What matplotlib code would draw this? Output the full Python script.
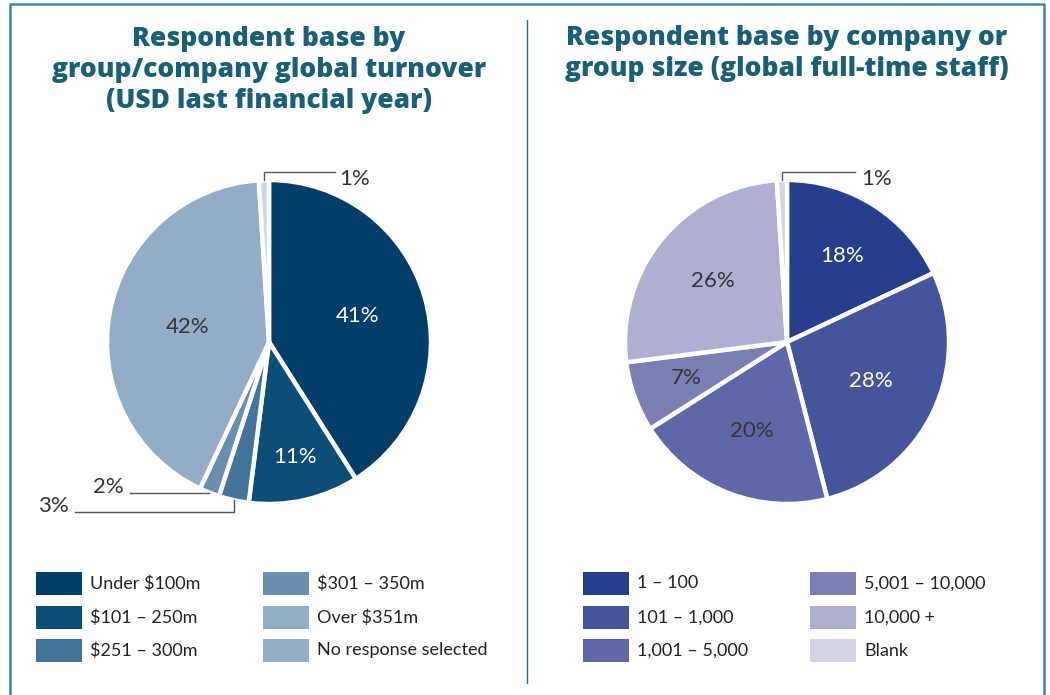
import numpy as np
import matplotlib
matplotlib.use("Agg")
import matplotlib.pyplot as plt
from matplotlib.patches import Rectangle
from matplotlib.lines import Line2D

# data
turnover_labels = ["Under $100m", "$101 – 250m", "$251 – 300m",
                   "$301 – 350m", "Over $351m", "No response selected"]
turnover_values = [41, 11, 3, 2, 42, 1]
turnover_colors = ["#023e68", "#0b4f79", "#44739b", "#6a8eb0", "#93adc8", "#c9d8e8"]
turnover_legend_colors = ["#023e68", "#0b4f79", "#44739b", "#6a8eb0", "#93adc8", "#93adc8"]

staff_labels = ["1 – 100", "101 – 1,000", "1,001 – 5,000",
                "5,001 – 10,000", "10,000 +", "Blank"]
staff_values = [18, 28, 20, 7, 26, 1]
staff_colors = ["#253f8d", "#45559b", "#5f68a6", "#7c7fb3", "#afafd2", "#d3d4e6"]

title_left = "Respondent base by\ngroup/company global turnover\n(USD last financial year)"
title_right = "Respondent base by company or\ngroup size (global full-time staff)"

# layout
W, H = 1050, 695
R = 162
TITLE_COLOR = "#195f78"
FRAME_COLOR = "#3f86a0"
FONT = ["Lato", "DejaVu Sans"]

plt.rcParams["font.family"] = FONT

fig = plt.figure(figsize=(W / 100, H / 100), dpi=100)


def fx(x):
    return x / W


def fy(y):
    return 1 - y / H


def draw_pie(cx, cy, values, colors, label_r, text_colors):
    S = 420
    ax = fig.add_axes([fx(cx - S / 2), fy(cy + S / 2), S / W, S / H])
    wedges, _ = ax.pie(values, colors=colors, startangle=90, counterclock=False,
                       radius=1, wedgeprops=dict(edgecolor="white", linewidth=3.2))
    L = (S / 2) / R
    ax.set_xlim(-L, L)
    ax.set_ylim(-L, L)
    ax.set_aspect("equal")
    ax.axis("off")
    for w, v, r, tc in zip(wedges, values, label_r, text_colors):
        if r is None:
            continue
        mid = np.deg2rad((w.theta1 + w.theta2) / 2)
        ax.text(r * np.cos(mid), r * np.sin(mid), f"{v}%", ha="center", va="center",
                fontsize=16, color=tc, fontweight="normal")
    return ax, wedges


def edge_point(w):
    mid = np.deg2rad((w.theta1 + w.theta2) / 2)
    return np.cos(mid), np.sin(mid)


LEADER = dict(color="#555555", lw=1.0, clip_on=False)
SMALL_TXT = dict(fontsize=16, color="#333333", fontweight="normal")

# left pie
axl, wl = draw_pie(269, 342, turnover_values, turnover_colors,
                   [0.57, 0.73, None, None, 0.51, None],
                   ["white", "white", "white", "white", "#333333", "#333333"])
# 1% leader (top)
x0, y0 = edge_point(wl[5])
top_y = (342 - 172) / R
axl.plot([x0, x0, (335 - 269) / R], [y0, top_y, top_y], **LEADER)
axl.text((339 - 269) / R, (342 - 179) / R, f"{turnover_values[5]}%", ha="left", va="center", **SMALL_TXT)
# 2% leader
x0, y0 = edge_point(wl[3])
axl.plot([x0, (130 - 269) / R], [y0, y0], **LEADER)
axl.text((124 - 269) / R, y0, f"{turnover_values[3]}%", ha="right", va="baseline", **SMALL_TXT)
# 3% leader
x0, y0 = edge_point(wl[2])
low_y = (342 - 512) / R
axl.plot([x0, x0, (75 - 269) / R], [y0, low_y, low_y], **LEADER)
axl.text((69 - 269) / R, low_y, f"{turnover_values[2]}%", ha="right", va="baseline", **SMALL_TXT)

# right pie
axr, wr = draw_pie(787, 342, staff_values, staff_colors,
                   [0.63, 0.57, 0.59, 0.66, 0.59, None],
                   ["white", "white", "#333333", "#333333", "#333333", "#333333"])
x0, y0 = edge_point(wr[5])
axr.plot([x0, x0, (855 - 787) / R], [y0, top_y, top_y], **LEADER)
axr.text((861 - 787) / R, (342 - 179) / R, f"{staff_values[5]}%", ha="left", va="center", **SMALL_TXT)

# titles
TITLE_FONT = ["Open Sans", "Lato", "DejaVu Sans"]
fig.text(fx(269), fy(70), title_left, ha="center", va="center", fontsize=19,
         fontweight="heavy", color=TITLE_COLOR, linespacing=1.25, family=TITLE_FONT)
fig.text(fx(787), fy(53.5), title_right, ha="center", va="center", fontsize=19,
         fontweight="heavy", color=TITLE_COLOR, linespacing=1.25, family=TITLE_FONT)


# legends
def draw_legend(col_x, labels, colors):
    row_y = [583.5, 617.5, 650.5]
    for i, (lab, c) in enumerate(zip(labels, colors)):
        x = col_x[i // 3]
        y = row_y[i % 3]
        fig.patches.append(Rectangle((fx(x), fy(y + 11.5)), 46 / W, 23 / H,
                                     transform=fig.transFigure, facecolor=c, edgecolor="none"))
        fig.text(fx(x + 54), fy(y), lab, ha="left", va="center", fontsize=13, color="#222222")


draw_legend([36, 263], turnover_labels, turnover_legend_colors)
draw_legend([583, 810], staff_labels, staff_colors)

# frame and divider
fig.add_artist(Line2D([fx(10), fx(10), fx(1044), fx(1044)], [fy(H + 2), fy(4), fy(4), fy(H + 2)],
                      transform=fig.transFigure, color=FRAME_COLOR, lw=1.8))
fig.add_artist(Line2D([fx(527), fx(527)], [fy(20), fy(683)],
                      transform=fig.transFigure, color="#2a6f8c", lw=1.0))

fig.savefig("out.png", dpi=100, facecolor="white")
